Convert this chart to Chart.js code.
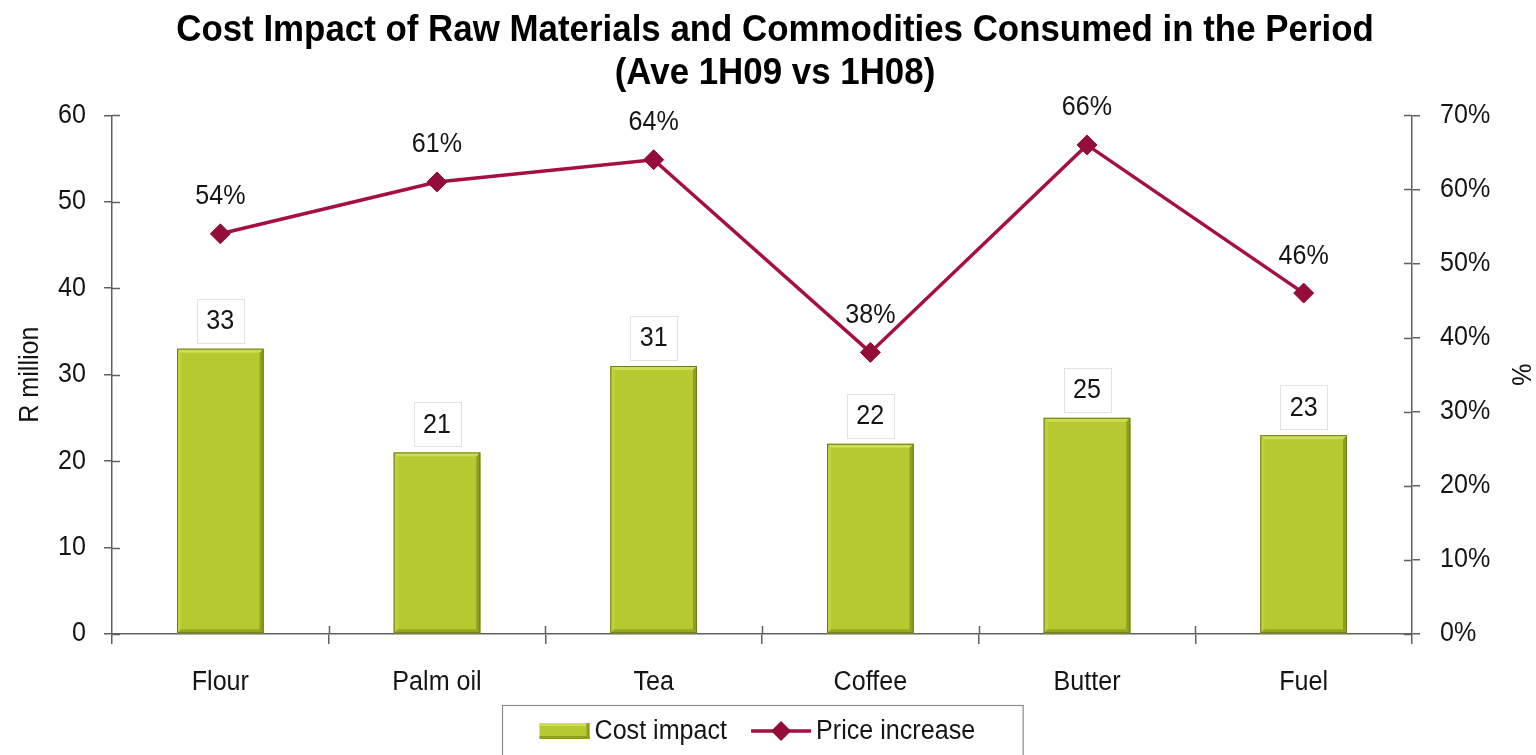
<!DOCTYPE html>
<html>
<head>
<meta charset="utf-8">
<title>Cost Impact of Raw Materials and Commodities</title>
<script src="https://cdn.jsdelivr.net/npm/chart.js@4.4.1/dist/chart.umd.min.js"></script>
<style>
  html, body { margin: 0; padding: 0; background: #fff; }
  canvas { display: block; }
</style>
</head>
<body>
<canvas id="chart" width="1536" height="755"></canvas>
<script>
// ---- data ----
const categories = ['Flour', 'Palm oil', 'Tea', 'Coffee', 'Butter', 'Fuel'];
const costImpact = [33, 21, 31, 22, 25, 23];          // R million
const priceIncrease = [54, 61, 64, 38, 66, 46];       // %
const costAxisMax = 60;
const pctAxisMax = 70;
const tickStep = 10;
const titleLines = ['Cost Impact of Raw Materials and Commodities Consumed in the Period', '(Ave 1H09 vs 1H08)'];
const seriesNames = ['Cost impact', 'Price increase'];
const leftAxisTitle = 'R million';
const rightAxisTitle = '%';

// ---- styles ----
const FONT = '"Liberation Sans", Arial, sans-serif';
const TEXT_SQUEEZE = 0.93;   // narrow lettering
const AXIS = '#606060';
const TEXT = '#151515';
const BAR = '#b6c92e';
const LINE = '#a5103f';
const MARK = '#940c38';

const canvas = document.getElementById('chart');
const ctx2d = canvas.getContext('2d');

// draw all canvas text horizontally condensed around its anchor point
(function condenseText(ctx, k) {
  const fill = ctx.fillText.bind(ctx);
  const measure = ctx.measureText.bind(ctx);
  ctx.fillText = function (text, x, y, maxWidth) {
    ctx.save();
    ctx.translate(x, y);
    ctx.scale(k, 1);
    if (maxWidth !== undefined) fill(text, 0, 0, maxWidth / k);
    else fill(text, 0, 0);
    ctx.restore();
  };
  ctx.measureText = function (text) {
    const m = measure(text);
    return {
      width: m.width * k,
      actualBoundingBoxLeft: m.actualBoundingBoxLeft * k,
      actualBoundingBoxRight: m.actualBoundingBoxRight * k,
      actualBoundingBoxAscent: m.actualBoundingBoxAscent,
      actualBoundingBoxDescent: m.actualBoundingBoxDescent,
      fontBoundingBoxAscent: m.fontBoundingBoxAscent,
      fontBoundingBoxDescent: m.fontBoundingBoxDescent
    };
  };
})(ctx2d, TEXT_SQUEEZE);

function poly(ctx, pts, fill) {
  ctx.beginPath();
  ctx.moveTo(pts[0][0], pts[0][1]);
  for (let i = 1; i < pts.length; i++) ctx.lineTo(pts[i][0], pts[i][1]);
  ctx.closePath();
  ctx.fillStyle = fill;
  ctx.fill();
}

// bevelled look on the bars
const bevelBars = {
  id: 'bevelBars',
  afterDatasetDraw(chart, args) {
    if (args.index !== 0) return;
    const ctx = chart.ctx;
    args.meta.data.forEach(bar => {
      const p = bar.getProps(['x', 'y', 'base', 'width'], true);
      const l = p.x - p.width / 2, r = p.x + p.width / 2, t = p.y, b = p.base, e = 4;
      ctx.save();
      poly(ctx, [[l, t], [r, t], [r - e, t + e], [l + e, t + e]], '#cddd55');
      poly(ctx, [[l, t], [l + e, t + e], [l + e, b - e], [l, b]], '#c1d23c');
      poly(ctx, [[r, t], [r, b], [r - e, b - e], [r - e, t + e]], '#8f9d20');
      poly(ctx, [[l, b], [r, b], [r - e, b - e], [l + e, b - e]], '#97a524');
      ctx.strokeStyle = '#6e7a17';
      ctx.lineWidth = 1;
      ctx.strokeRect(l + 0.5, t + 0.5, p.width - 1, b - t - 1);
      ctx.restore();
    });
  }
};

// tick marks that cross the axis lines
const crossTicks = {
  id: 'crossTicks',
  afterDraw(chart) {
    const ctx = chart.ctx;
    const { x, y, y1 } = chart.scales;
    const len = 8;
    ctx.save();
    ctx.strokeStyle = AXIS;
    ctx.lineWidth = 1.5;
    ctx.beginPath();
    y.ticks.forEach(t => {
      const py = Math.round(y.getPixelForValue(t.value)) + 0.5;
      ctx.moveTo(y.right, py); ctx.lineTo(y.right + len, py);
    });
    y1.ticks.forEach(t => {
      const py = Math.round(y1.getPixelForValue(t.value)) + 0.5;
      ctx.moveTo(y1.left - len, py); ctx.lineTo(y1.left, py);
    });
    for (let i = 1; i < categories.length; i++) {
      const px = Math.round(x.getPixelForValue(i - 0.5)) + 0.5;
      ctx.moveTo(px, x.top - len); ctx.lineTo(px, x.top);
    }
    ctx.stroke();
    ctx.restore();
  }
};

// value labels: boxed above the bars, plain above the line points
const valueLabels = {
  id: 'valueLabels',
  afterDatasetsDraw(chart) {
    const ctx = chart.ctx;
    ctx.save();
    ctx.font = '27px ' + FONT;
    ctx.textAlign = 'center';
    ctx.textBaseline = 'middle';
    const barMeta = chart.getDatasetMeta(0);
    barMeta.data.forEach((bar, i) => {
      const bw = 47, bh = 44;
      const cx = bar.x, bottom = bar.y - 6;
      ctx.fillStyle = '#ffffff';
      ctx.fillRect(cx - bw / 2, bottom - bh, bw, bh);
      ctx.strokeStyle = '#e2e2e2';
      ctx.lineWidth = 1;
      ctx.strokeRect(Math.round(cx - bw / 2) + 0.5, Math.round(bottom - bh) + 0.5, bw, bh);
      ctx.fillStyle = TEXT;
      ctx.fillText(String(costImpact[i]), cx, bottom - bh / 2 + 1);
    });
    const lineMeta = chart.getDatasetMeta(1);
    lineMeta.data.forEach((pt, i) => {
      ctx.fillStyle = TEXT;
      ctx.fillText(priceIncrease[i] + '%', pt.x, pt.y - 37);
    });
    ctx.restore();
  }
};

// boxed legend under the category axis
const boxedLegend = {
  id: 'boxedLegend',
  afterDraw(chart) {
    const ctx = chart.ctx;
    const area = chart.chartArea;
    ctx.save();
    ctx.font = '27px ' + FONT;
    ctx.textBaseline = 'middle';
    const sw = 50, gap = 5, itemGap = 24, padL = 37, padR = 48;
    const w0 = ctx.measureText(seriesNames[0]).width;
    const w1 = ctx.measureText(seriesNames[1]).width;
    const lineW = 60;
    const inner = sw + gap + w0 + itemGap + lineW + gap + w1;
    const boxW = inner + padL + padR;
    const cx = (area.left + area.right) / 2;
    const boxL = Math.round(cx - boxW / 2) + 0.5;
    const boxT = 705.5;
    ctx.strokeStyle = '#8a8a8a';
    ctx.lineWidth = 1.2;
    ctx.strokeRect(boxL, boxT, boxW, 70);
    const cy = 731;
    let px = boxL + padL;
    // bar swatch
    ctx.fillStyle = BAR;
    ctx.fillRect(px, cy - 8, sw, 16);
    ctx.fillStyle = '#cddd55';
    ctx.fillRect(px, cy - 8, sw, 3);
    ctx.fillStyle = '#8f9d20';
    ctx.fillRect(px + sw - 3, cy - 8, 3, 16);
    ctx.fillRect(px, cy + 5, sw, 3);
    px += sw + gap;
    ctx.fillStyle = TEXT;
    ctx.fillText(seriesNames[0], px, cy + 1);
    px += w0 + itemGap;
    // line swatch with diamond
    ctx.strokeStyle = LINE;
    ctx.lineWidth = 3.5;
    ctx.beginPath();
    ctx.moveTo(px, cy); ctx.lineTo(px + lineW, cy);
    ctx.stroke();
    const dx = px + lineW / 2, r = 10;
    poly(ctx, [[dx, cy - r], [dx + r, cy], [dx, cy + r], [dx - r, cy]], MARK);
    px += lineW + gap;
    ctx.fillStyle = TEXT;
    ctx.fillText(seriesNames[1], px, cy + 1);
    ctx.restore();
  }
};

const tickFont = { family: FONT, size: 27 };

new Chart(canvas, {
  data: {
    labels: categories,
    datasets: [
      {
        type: 'bar',
        label: seriesNames[0],
        data: costImpact,
        yAxisID: 'y',
        backgroundColor: BAR,
        borderWidth: 0,
        categoryPercentage: 1,
        barPercentage: 0.4,
        order: 1
      },
      {
        type: 'line',
        label: seriesNames[1],
        data: priceIncrease,
        yAxisID: 'y1',
        borderColor: LINE,
        borderWidth: 3.5,
        tension: 0,
        pointStyle: 'rectRot',
        pointRadius: 10,
        pointBackgroundColor: MARK,
        pointBorderColor: MARK,
        pointBorderWidth: 1,
        order: 0
      }
    ]
  },
  options: {
    responsive: false,
    animation: false,
    layout: { padding: { left: 14, right: 0, top: 0, bottom: 0 } },
    plugins: {
      legend: { display: false },
      tooltip: { enabled: false },
      title: {
        display: true,
        text: titleLines,
        color: '#000',
        font: { family: FONT, size: 37.5, weight: 'bold', lineHeight: 1.15 },
        padding: { top: 9, bottom: 20 }
      }
    },
    scales: {
      x: {
        grid: { display: true, drawOnChartArea: false, drawTicks: true, tickLength: 10, color: AXIS, lineWidth: 1.5, offset: true },
        border: { display: true, color: AXIS, width: 1.5 },
        ticks: { color: TEXT, font: tickFont, padding: 22, maxRotation: 0 },
        afterFit(scale) { scale.height = 121; }
      },
      y: {
        position: 'left',
        min: 0, max: costAxisMax,
        ticks: { stepSize: tickStep, color: TEXT, font: tickFont, padding: 18 },
        grid: { display: true, drawOnChartArea: false, drawTicks: true, tickLength: 8, color: AXIS, lineWidth: 1.5 },
        border: { display: true, color: AXIS, width: 1.5 },
        title: { display: true, text: leftAxisTitle, color: TEXT, font: tickFont, padding: 0 },
        afterFit(scale) { scale.width = 98; }
      },
      y1: {
        position: 'right',
        min: 0, max: pctAxisMax,
        ticks: { stepSize: tickStep, color: TEXT, font: tickFont, padding: 20, callback: v => v + '%' },
        grid: { display: true, drawOnChartArea: false, drawTicks: true, tickLength: 8, color: AXIS, lineWidth: 1.5 },
        border: { display: true, color: AXIS, width: 1.5 },
        title: { display: true, text: rightAxisTitle, color: TEXT, font: tickFont, padding: 0 },
        afterFit(scale) { scale.width = 124; }
      }
    }
  },
  plugins: [bevelBars, crossTicks, valueLabels, boxedLegend]
});
</script>
</body>
</html>
